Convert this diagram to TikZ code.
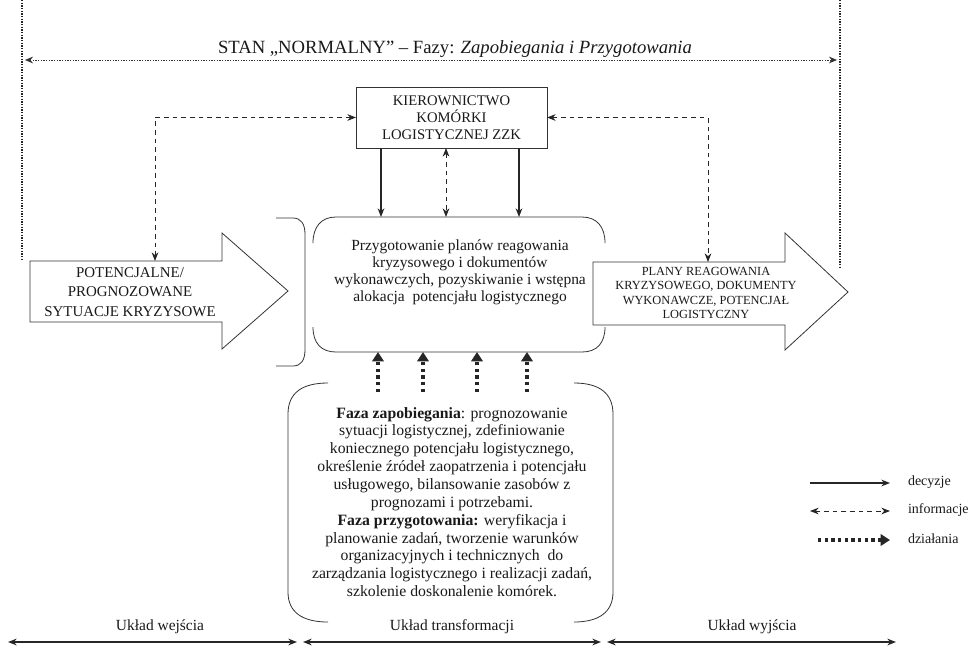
\documentclass[tikz,border=0pt]{standalone}
\usepackage{fontspec}
\setmainfont{Liberation Serif}
\usetikzlibrary{arrows.meta}
\begin{document}
\begin{tikzpicture}[x=0.75pt,y=-0.75pt,
  every node/.style={inner sep=0pt, outer sep=0pt, text=black!90},
  stip/.tip={Stealth[length=6.5pt,width=5pt]},
  decision/.style={draw=black!85, line width=0.9pt, -stip},
  info/.style={draw=black!85, line width=0.7pt, dash pattern=on 3.5pt off 3pt, stip-stip},
  action/.style={draw=black!85, line width=3pt, dash pattern=on 2.6pt off 2.4pt,
                 -{Triangle[length=7pt,width=8.5pt]}},
  border/.style={draw=black!80, line width=0.6pt},
  sideline/.style={draw=black!85, line width=1.6pt, dash pattern=on 1.1pt off 0.9pt},
  stateline/.style={draw=black!80, line width=0.6pt, dash pattern=on 0.9pt off 1.1pt,
                    {Stealth[length=6pt,width=5pt]}-{Stealth[length=6pt,width=5pt]}},
  span/.style={draw=black!85, line width=1.1pt, stip-stip},
  bodytext/.style={align=center, font=\fontsize{11.6}{12.8}\selectfont},
  arrowtext/.style={align=center, font=\fontsize{11.2}{14.6}\selectfont},
  smalltext/.style={align=center, font=\fontsize{9.3}{10.9}\selectfont},
  legendtext/.style={anchor=west, font=\fontsize{10.5}{12}\selectfont},
  spantext/.style={font=\fontsize{11.6}{13}\selectfont}]

\fill[white] (0,0) rectangle (971,658);
\useasboundingbox (0,0) rectangle (971,658);

% ---------- state "normal" frame ----------
\coordinate (fl0) at (22,0);   \coordinate (fl1) at (22,260);
\coordinate (fr0) at (840,0);  \coordinate (fr1) at (840,267);
\coordinate (sl) at (25,60);   \coordinate (sr) at (837,60);
\draw[sideline] (fl0) -- (fl1);
\draw[sideline] (fr0) -- (fr1);
\draw[stateline] (sl) -- (sr);
\node[font=\fontsize{14}{16}\selectfont] (state) at (455,49)
  {STAN „NORMALNY” – Fazy: \textit{Zapobiegania i Przygotowania}};

% ---------- management box ----------
\node[border, minimum width=143.25pt, minimum height=45.75pt,
      align=center, font=\fontsize{11}{12.75}\selectfont] (kier) at (451.5,117.5)
  {KIEROWNICTWO\\KOMÓRKI\\LOGISTYCZNEJ ZZK};

% ---------- input block arrow ----------
\draw[border] (30,261) -- (222,261) -- (222,233) -- (288,291) -- (222,349)
  -- (222,322) -- (30,322) -- cycle;
\coordinate (lin) at (155,261);
\node[arrowtext] (input) at (130,292)
  {POTENCJALNE/\\PROGNOZOWANE\\SYTUACJE KRYZYSOWE};

% bracket closing the input part
\draw[border] (276,218) -- (293,218) .. controls (301,218) and (305,224) .. (305,234)
  -- (305,350) .. controls (305,360) and (301,366) .. (293,366) -- (276,366);

% ---------- output block arrow ----------
\draw[border] (593,262) -- (785,262) -- (785,233) -- (848,292) -- (785,350)
  -- (785,325) -- (593,325) -- cycle;
\coordinate (rin) at (708,262);
\node[smalltext] (output) at (706,293)
  {PLANY REAGOWANIA\\KRYZYSOWEGO, DOKUMENTY\\WYKONAWCZE, POTENCJAŁ\\LOGISTYCZNY};

% ---------- transformation box ----------
\node[minimum width=219pt, minimum height=101.25pt] (midbox) at (459,284.5) {};
\draw[border] (313,243) .. controls (313,227) and (321,217) .. (336,217) -- (582,217)
  .. controls (597,217) and (605,227) .. (605,243);
\draw[border] (605,327) .. controls (605,343) and (597,352) .. (582,352) -- (336,352)
  .. controls (321,352) and (313,343) .. (313,327);
\node[bodytext] (midtext) at (460,272)
  {Przygotowanie planów reagowania\\kryzysowego i dokumentów\\wykonawczych, pozyskiwanie i wstępna\\alokacja \ potencjału logistycznego};

% ---------- phases box ----------
\node[minimum width=243.75pt, minimum height=179.25pt] (low) at (450.5,502.5) {};
\draw[border] (328,383) .. controls (302,383) and (288,393) .. (288,414) -- (288,592)
  .. controls (288,612) and (302,622) .. (328,622);
\draw[border] (574,383) .. controls (599,383) and (613,393) .. (613,414) -- (613,592)
  .. controls (613,612) and (599,622) .. (574,622);
\node[align=center, font=\fontsize{11.8}{13.4}\selectfont] (lowtext) at (452,502)
  {\textbf{Faza zapobiegania}: prognozowanie\\
   sytuacji logistycznej, zdefiniowanie\\
   koniecznego potencjału logistycznego,\\
   określenie źródeł zaopatrzenia i potencjału\\
   usługowego, bilansowanie zasobów z\\
   prognozami i potrzebami.\\
   \textbf{Faza przygotowania:} weryfikacja i\\
   planowanie zadań, tworzenie warunków\\
   organizacyjnych i technicznych \ do\\
   zarządzania logistycznego i realizacji zadań,\\
   szkolenie doskonalenie komórek.};

% ---------- connectors ----------
\coordinate (d1) at (381,0);
\coordinate (d2) at (446,0);
\coordinate (d3) at (519,0);
\draw[decision] (kier.south -| d1) -- (midbox.north -| d1);
\draw[info]     (kier.south -| d2) -- (midbox.north -| d2);
\draw[decision] (kier.south -| d3) -- (midbox.north -| d3);
\draw[info] (kier.west) -| (lin);
\draw[info] (kier.east) -| (rin);

\coordinate (a1) at (378,392);
\coordinate (a2) at (423,392);
\coordinate (a3) at (477,392);
\coordinate (a4) at (527,392);
\foreach \a in {a1,a2,a3,a4}
  \draw[action] (\a) -- (midbox.south -| \a);

% ---------- legend ----------
\coordinate (k1s) at (810,483); \coordinate (k1e) at (890,483);
\coordinate (k2s) at (810,511); \coordinate (k2e) at (890,511);
\coordinate (k3s) at (818,540); \coordinate (k3e) at (890,540);
\draw[decision] (k1s) -- (k1e);
\draw[info] (k2s) -- (k2e);
\draw[action] (k3s) -- (k3e);
\node[legendtext] (lg1) at (908,482) {decyzje};
\node[legendtext] (lg2) at (908,510) {informacje};
\node[legendtext] (lg3) at (908,539) {działania};

% ---------- system parts ----------
\coordinate (s0) at (8,642);   \coordinate (s1) at (297,642);
\coordinate (s2) at (303,642); \coordinate (s3) at (601,642);
\coordinate (s4) at (607,642); \coordinate (s5) at (896,642);
\draw[span] (s0) -- (s1);
\draw[span] (s2) -- (s3);
\draw[span] (s4) -- (s5);
\node[spantext] (u1) at (160,627) {Układ wejścia};
\node[spantext] (u2) at (452,627) {Układ transformacji};
\node[spantext] (u3) at (752,627) {Układ wyjścia};

\end{tikzpicture}
\end{document}
